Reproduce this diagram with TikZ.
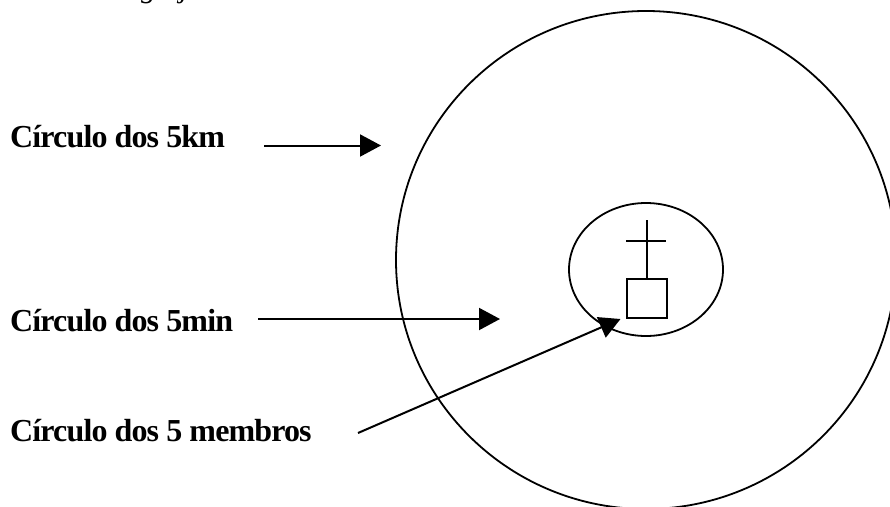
\documentclass[tikz,border=0pt]{standalone}
\usepackage{fontspec}
\setmainfont{Liberation Serif}
\usetikzlibrary{arrows.meta,shapes.geometric}
\tikzset{
  lbl/.style={anchor=base west,inner sep=0pt,font=\fontsize{32pt}{36pt}\selectfont\bfseries\addfontfeatures{LetterSpace=-2.7}},
  frag/.style={anchor=base west,inner sep=0pt,font=\fontsize{30pt}{34pt}\selectfont\itshape},
  ring/.style={draw=black,line width=1.8pt,ellipse,inner sep=0pt},
  boxed/.style={draw=black,line width=2pt,rectangle,inner sep=0pt,minimum width=40pt,minimum height=39pt},
  stroke/.style={draw=black,line width=2pt},
  pointer/.style={draw=black,line width=2pt,-{Triangle[length=21pt,width=22pt]}},
}
\begin{document}
\begin{tikzpicture}[x=1pt,y=-1pt]
\useasboundingbox (0,0) rectangle (890,506);
\begin{scope}
\clip (0,0) rectangle (890,506);
\node[ring,minimum width=500pt,minimum height=498pt] (big) at (646,260) {};
\node[frag] (g) at (141,-2) {g};
\node[frag] (j) at (180,-2) {j};
\end{scope}
\node[ring,minimum width=154pt,minimum height=133pt] (small) at (646,269.5) {};
\node[boxed] (box) at (647,298.5) {};
\coordinate (crosstop) at (647,220);
\coordinate (armL) at (626,241);
\coordinate (armR) at (666,241);
\draw[stroke] (box.north) -- (crosstop);
\draw[stroke] (armL) -- (armR);
\node[lbl] (km) at (10,147) {Círculo dos 5km};
\node[lbl] (min) at (10,331.5) {Círculo dos 5min};
\node[lbl] (mem) at (10,441) {Círculo dos 5 membros};
\coordinate (kmS) at (264,145.5);
\coordinate (kmE) at (381,145.5);
\coordinate (minS) at (258,319);
\coordinate (minE) at (500,319);
\coordinate (memS) at (358,433);
\coordinate (memE) at (620.5,319);
\draw[pointer] (kmS) -- (kmE);
\draw[pointer] (minS) -- (minE);
\draw[pointer] (memS) -- (memE);
\end{tikzpicture}
\end{document}
